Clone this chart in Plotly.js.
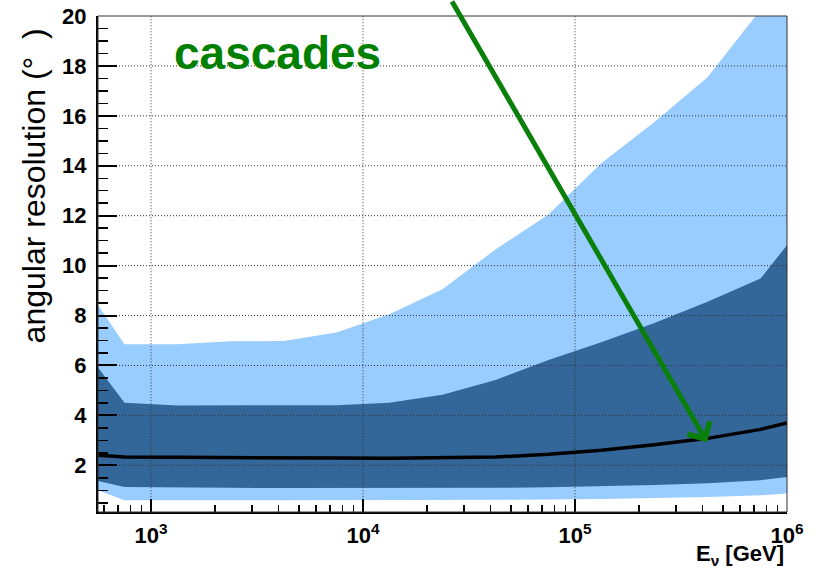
<!DOCTYPE html>
<html>
<head>
<meta charset="utf-8">
<script src="https://cdn.plot.ly/plotly-3.0.1.min.js"></script>
<style>
  html, body { margin: 0; padding: 0; background: #ffffff; }
  #chart { width: 817px; height: 568px; }
</style>
</head>
<body>
<div id="chart"></div>
<script>
// Neutrino energy nodes (GeV)
const energyGeV = [562, 750, 1330, 2370, 4220, 7500, 13300, 23700, 42200, 75000, 133000, 237000, 422000, 750000, 1000000];

// Angular resolution bands (degrees)
const outerUpper = [8.42, 6.85, 6.85, 6.97, 6.98, 7.32, 8.05, 9.05, 10.65, 12.05, 14.1, 15.75, 17.55, 20.25, 21.6];
const innerUpper = [5.92, 4.51, 4.40, 4.40, 4.40, 4.41, 4.51, 4.83, 5.42, 6.22, 6.93, 7.70, 8.55, 9.48, 10.82];
const medianRes  = [2.40, 2.33, 2.32, 2.32, 2.31, 2.29, 2.28, 2.29, 2.33, 2.44, 2.60, 2.82, 3.08, 3.44, 3.70];
const innerLower = [1.37, 1.13, 1.11, 1.10, 1.09, 1.09, 1.09, 1.09, 1.10, 1.12, 1.16, 1.21, 1.28, 1.40, 1.53];
const outerLower = [1.00, 0.60, 0.60, 0.60, 0.60, 0.61, 0.62, 0.62, 0.62, 0.63, 0.65, 0.68, 0.73, 0.80, 0.87];

// Axis ticks
const xTickVals = [1e3, 1e4, 1e5, 1e6];
const xTickText = ['<b>10<sup>3</sup></b>', '<b>10<sup>4</sup></b>', '<b>10<sup>5</sup></b>', '<b>10<sup>6</sup></b>'];
const yTickVals = [2, 4, 6, 8, 10, 12, 14, 16, 18, 20];
const yTickText = ['<b>2</b>', '<b>4</b>', '<b>6</b>', '<b>8</b>', '<b>10</b>', '<b>12</b>', '<b>14</b>', '<b>16</b>', '<b>18</b>', '<b>20</b>'];

// Arrow target on the median curve
const arrowTipEnergy = 420000;
const arrowTipRes = 2.92;

const LIGHT = '#99ccff';
const DARK = '#336699';

function band(upper, lower) {
  return {
    x: energyGeV.concat(energyGeV.slice().reverse()),
    y: upper.concat(lower.slice().reverse())
  };
}

const outer = band(outerUpper, outerLower);
const inner = band(innerUpper, innerLower);

// dotted grid drawn above the filled bands
const gridVX = [], gridVY = [];
xTickVals.slice(0, 3).forEach(v => { gridVX.push(v, v, null); gridVY.push(0, 30, null); });
const gridHX = [], gridHY = [];
yTickVals.slice(0, 9).forEach(v => { gridHX.push(100, 1e7, null); gridHY.push(v, v, null); });

const gridStyle = { color: '#333333', width: 1, dash: '1px,2px' };

const traces = [
  { x: outer.x, y: outer.y, type: 'scatter', mode: 'lines', fill: 'toself',
    fillcolor: LIGHT, line: { width: 0, color: LIGHT }, hoverinfo: 'skip' },
  { x: inner.x, y: inner.y, type: 'scatter', mode: 'lines', fill: 'toself',
    fillcolor: DARK, line: { width: 0, color: DARK }, hoverinfo: 'skip' },
  { x: gridVX, y: gridVY, type: 'scatter', mode: 'lines', line: gridStyle,
    connectgaps: false, hoverinfo: 'skip' },
  { x: gridHX, y: gridHY, type: 'scatter', mode: 'lines', line: gridStyle,
    connectgaps: false, hoverinfo: 'skip' },
  { x: energyGeV, y: medianRes, type: 'scatter', mode: 'lines',
    line: { color: '#000000', width: 3.5 }, hoverinfo: 'skip' }
];

const tickFont = { family: 'Liberation Sans, Arial, sans-serif', size: 22, color: '#000000', weight: 'bold' };

const layout = {
  width: 817,
  height: 568,
  margin: { l: 98, r: 30, t: 16, b: 56 },
  paper_bgcolor: '#ffffff',
  plot_bgcolor: '#ffffff',
  showlegend: false,
  hovermode: false,
  xaxis: {
    type: 'log',
    range: [2.75, 6],
    tickmode: 'array',
    tickvals: xTickVals,
    ticktext: xTickText,
    ticks: 'inside',
    ticklen: 13,
    tickwidth: 1.5,
    tickcolor: '#000000',
    tickfont: tickFont,
    ticklabelstandoff: 3,
    showline: true,
    linecolor: '#000000',
    linewidth: 2,
    showgrid: false,
    zeroline: false,
    minor: { ticks: 'inside', ticklen: 7, tickwidth: 1.5, tickcolor: '#000000', dtick: 'D1', showgrid: false }
  },
  yaxis: {
    range: [0.13, 20],
    tickmode: 'array',
    tickvals: yTickVals,
    ticktext: yTickText,
    ticks: 'inside',
    ticklen: 19,
    tickwidth: 2,
    tickcolor: '#000000',
    tickfont: tickFont,
    ticklabelstandoff: 5,
    showline: true,
    linecolor: '#000000',
    linewidth: 2,
    showgrid: false,
    zeroline: false,
    minor: { ticks: 'inside', ticklen: 10, tickwidth: 1.5, tickcolor: '#000000', dtick: 0.5, showgrid: false }
  },
  shapes: [
    { type: 'rect', xref: 'paper', yref: 'paper', x0: 0, x1: 1, y0: 0, y1: 1,
      line: { color: '#333333', width: 1 }, layer: 'above' }
  ],
  annotations: [
    { text: '<b>cascades</b>', xref: 'paper', yref: 'paper', x: 0.26, y: 0.925,
      xanchor: 'center', yanchor: 'middle', showarrow: false,
      font: { family: 'Liberation Sans, Arial, sans-serif', size: 46, color: '#008000' } },
    { text: 'angular resolution (°  )', xref: 'paper', yref: 'paper', x: -0.0925, y: 0.657,
      xanchor: 'center', yanchor: 'middle', textangle: -90, showarrow: false,
      font: { family: 'Liberation Sans, Arial, sans-serif', size: 32, color: '#000000' } },
    { text: '<b>E<sub>ν</sub> [GeV]</b>', xref: 'paper', yref: 'paper', x: 1, y: 0,
      xanchor: 'right', yanchor: 'bottom', xshift: -1, yshift: -59, showarrow: false,
      font: { family: 'Liberation Sans, Arial, sans-serif', size: 22, color: '#000000' } },
    { text: '', xref: 'x', yref: 'y', x: Math.log10(arrowTipEnergy), y: arrowTipRes,
      showarrow: true, ax: -256, ay: -455, arrowcolor: '#0a800a', arrowwidth: 5,
      arrowhead: 4, arrowsize: 1.0, standoff: 0 }
  ]
};

Plotly.newPlot('chart', traces, layout, { staticPlot: true, displayModeBar: false });
</script>
</body>
</html>
